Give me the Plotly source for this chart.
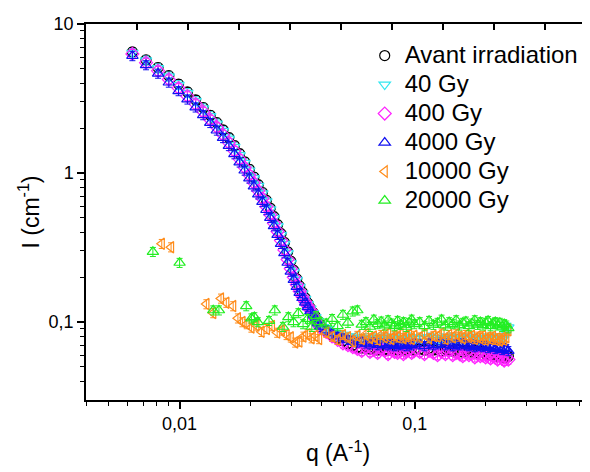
import math
import plotly.graph_objects as go

# ---------------- data ----------------
Q_LOW = [0.0063, 0.0072, 0.0081, 0.0090, 0.0099, 0.0108, 0.0117, 0.0126, 0.0135, 0.0144,
         0.0153, 0.0162, 0.0171, 0.0180, 0.0189, 0.0198, 0.0207, 0.0216, 0.0225, 0.0234,
         0.0243, 0.0252, 0.0261, 0.0270, 0.0279, 0.0288, 0.0297, 0.0306, 0.0315, 0.0324,
         0.0333, 0.0342, 0.0351, 0.0360, 0.0369, 0.0378, 0.0387, 0.0396]
Q_FLAT = [0.0420, 0.0445, 0.0470, 0.0495, 0.0520, 0.0545, 0.0570, 0.0595, 0.0620, 0.0645,
          0.0670, 0.0695, 0.0720, 0.0745, 0.0770, 0.0795, 0.0820, 0.0845, 0.0870, 0.0895,
          0.0920, 0.0945, 0.0970, 0.0995,
          0.105, 0.110, 0.115, 0.120, 0.125, 0.130, 0.135, 0.140, 0.145, 0.150,
          0.155, 0.160, 0.165, 0.170, 0.175, 0.180, 0.185, 0.190, 0.195, 0.200,
          0.205, 0.210, 0.215, 0.220, 0.225, 0.230, 0.235, 0.240, 0.245, 0.250]
Q_10000_LOW = [0.0084, 0.0092, 0.0130, 0.0139, 0.0150, 0.0158, 0.0169, 0.0177, 0.0185, 0.0193,
               0.0202, 0.0212, 0.0223, 0.0235, 0.0247, 0.0260, 0.0272, 0.0285, 0.0297, 0.0310,
               0.0323, 0.0336, 0.0350, 0.0364, 0.0378, 0.0392]
Q_20000_LOW = [0.0077, 0.0100, 0.0139, 0.0147, 0.0192, 0.0202, 0.0208, 0.0215, 0.0240, 0.0254,
               0.0275, 0.0290, 0.0305, 0.0320, 0.0335, 0.0350, 0.0365, 0.0380, 0.0395]

I_AVANT = [6.5, 5.75, 5.1, 4.5, 3.95, 3.5, 3.1, 2.75, 2.44, 2.18, 1.95, 1.73, 1.53, 1.35, 1.19,
           1.06, 0.94, 0.835, 0.74, 0.655, 0.58, 0.51, 0.45, 0.392, 0.342, 0.296, 0.256, 0.222,
           0.195, 0.174, 0.158, 0.145, 0.134, 0.124, 0.116, 0.109, 0.102, 0.096,
           0.088, 0.082, 0.078, 0.075, 0.072, 0.070, 0.068, 0.067, 0.069, 0.066, 0.068, 0.065,
           0.067, 0.066, 0.065, 0.067, 0.066, 0.065, 0.067, 0.066, 0.065, 0.066, 0.067, 0.065,
           0.066, 0.065, 0.067, 0.065, 0.066, 0.064, 0.066, 0.065, 0.064, 0.066, 0.065, 0.063,
           0.065, 0.064, 0.063, 0.065, 0.062, 0.064, 0.063, 0.061, 0.063, 0.060, 0.062, 0.061,
           0.059, 0.061, 0.060, 0.058, 0.060, 0.059]
I_40 = [6.4, 5.7, 5.05, 4.45, 3.9, 3.45, 3.05, 2.72, 2.41, 2.15, 1.92, 1.7, 1.5, 1.32, 1.17,
        1.04, 0.925, 0.82, 0.73, 0.645, 0.57, 0.5, 0.44, 0.385, 0.335, 0.29, 0.25, 0.218,
        0.192, 0.172, 0.156, 0.143, 0.132, 0.123, 0.115, 0.108, 0.102, 0.096,
        0.090, 0.087, 0.084, 0.081, 0.080, 0.078, 0.079, 0.077, 0.078, 0.076, 0.078, 0.077,
        0.079, 0.076, 0.078, 0.077, 0.079, 0.078, 0.076, 0.078, 0.077, 0.079, 0.078, 0.077,
        0.078, 0.077, 0.079, 0.078, 0.076, 0.078, 0.077, 0.079, 0.078, 0.077, 0.079, 0.078,
        0.077, 0.078, 0.079, 0.077, 0.078, 0.076, 0.078, 0.077, 0.078, 0.079, 0.077, 0.078,
        0.076, 0.078, 0.077, 0.079, 0.085, 0.092]
I_400 = [6.3, 5.5, 4.85, 4.25, 3.72, 3.28, 2.9, 2.58, 2.28, 2.03, 1.81, 1.6, 1.41, 1.24, 1.09,
         0.97, 0.86, 0.76, 0.675, 0.595, 0.525, 0.46, 0.405, 0.352, 0.305, 0.263, 0.228, 0.2,
         0.178, 0.161, 0.148, 0.137, 0.128, 0.12, 0.112, 0.105, 0.098, 0.092,
         0.086, 0.080, 0.076, 0.072, 0.070, 0.068, 0.066, 0.064, 0.067, 0.063, 0.065, 0.062,
         0.066, 0.064, 0.061, 0.065, 0.063, 0.062, 0.064, 0.061, 0.063, 0.065, 0.062, 0.064,
         0.063, 0.061, 0.064, 0.062, 0.060, 0.063, 0.061, 0.064, 0.060, 0.062, 0.061, 0.059,
         0.062, 0.060, 0.061, 0.058, 0.061, 0.059, 0.060, 0.058, 0.060, 0.057, 0.059, 0.058,
         0.056, 0.059, 0.057, 0.055, 0.058, 0.056]
I_4000 = [6.1, 5.3, 4.65, 4.05, 3.55, 3.12, 2.76, 2.45, 2.17, 1.93, 1.72, 1.52, 1.34, 1.18, 1.04,
          0.92, 0.815, 0.72, 0.64, 0.565, 0.50, 0.44, 0.385, 0.335, 0.29, 0.25, 0.218, 0.192,
          0.172, 0.157, 0.145, 0.135, 0.126, 0.118, 0.111, 0.104, 0.098, 0.093,
          0.088, 0.084, 0.080, 0.078, 0.076, 0.075, 0.073, 0.074, 0.072, 0.071, 0.073, 0.070,
          0.072, 0.071, 0.070, 0.072, 0.069, 0.071, 0.070, 0.072, 0.069, 0.071, 0.070, 0.072,
          0.071, 0.069, 0.072, 0.070, 0.071, 0.073, 0.070, 0.072, 0.069, 0.071, 0.070, 0.072,
          0.070, 0.069, 0.071, 0.068, 0.070, 0.069, 0.068, 0.070, 0.067, 0.069, 0.068, 0.066,
          0.068, 0.067, 0.065, 0.067, 0.066, 0.064]
I_10000 = [0.335, 0.318, 0.132, 0.115, 0.144, 0.135, 0.128, 0.106, 0.100, 0.097, 0.092, 0.095,
           0.086, 0.090, 0.094, 0.085, 0.088, 0.082, 0.079, 0.073, 0.074, 0.080, 0.083, 0.078,
           0.081, 0.077,
           0.085, 0.080, 0.076, 0.082, 0.079, 0.074, 0.081, 0.077, 0.083, 0.078, 0.080, 0.076,
           0.082, 0.079, 0.084, 0.077, 0.081, 0.079, 0.083, 0.078, 0.080, 0.082, 0.077, 0.081,
           0.079, 0.083, 0.078, 0.081, 0.080, 0.084, 0.077, 0.082, 0.079, 0.083, 0.080, 0.078,
           0.082, 0.079, 0.081, 0.077, 0.080, 0.078, 0.081, 0.076, 0.079, 0.077, 0.080, 0.076,
           0.078, 0.075, 0.078, 0.076, 0.079, 0.088]
I_20000 = [0.296, 0.250, 0.120, 0.120, 0.128, 0.106, 0.108, 0.100, 0.102, 0.120, 0.093, 0.108,
           0.100, 0.115, 0.097, 0.105, 0.093, 0.110, 0.100,
           0.098, 0.105, 0.094, 0.112, 0.099, 0.118, 0.120, 0.096, 0.100, 0.093, 0.104, 0.097,
           0.101, 0.095, 0.103, 0.098, 0.094, 0.102, 0.096, 0.100, 0.093, 0.099, 0.104, 0.097,
           0.100, 0.094, 0.102, 0.096, 0.099, 0.104, 0.095, 0.100, 0.097, 0.103, 0.095, 0.099,
           0.101, 0.094, 0.098, 0.103, 0.096, 0.100, 0.095, 0.099, 0.102, 0.094, 0.098, 0.100,
           0.095, 0.099, 0.093, 0.097, 0.095, 0.091]

NAMES = ["Avant irradiation", "40 Gy", "400 Gy", "4000 Gy", "10000 Gy", "20000 Gy"]
X_TICKS = [0.01, 0.1]
X_TICKTEXT = ["0,01", "0,1"]
Y_TICKS = [0.1, 1, 10]
Y_TICKTEXT = ["0,1", "1", "10"]

Q_MAIN = Q_LOW + Q_FLAT
series = [
    (NAMES[0], Q_MAIN, I_AVANT, "circle-open", "#000000"),
    (NAMES[1], Q_MAIN, I_40, "triangle-down-open", "#33E6F0"),
    (NAMES[2], Q_MAIN, I_400, "diamond-open", "#FF22FF"),
    (NAMES[3], Q_MAIN, I_4000, "triangle-up-open", "#1010F0"),
    (NAMES[4], Q_10000_LOW + Q_FLAT, I_10000, "triangle-left-open", "#FF8C1A"),
    (NAMES[5], Q_20000_LOW + Q_FLAT, I_20000, "triangle-up-open", "#22EE22"),
]
for name, q, i, _, _ in series:
    assert len(q) == len(i), (name, len(q), len(i))

FONT = "Liberation Sans, Arial, sans-serif"

fig = go.Figure()
for name, q, i, sym, col in series:
    fig.add_trace(go.Scatter(
        x=q, y=i, mode="markers",
        name='<span style="font-size:24px">' + name + '</span>',
        marker=dict(symbol=sym, size=10, color=col, line=dict(width=1.2, color=col)),
        error_y=dict(type="percent", value=7, width=3, thickness=1, color=col),
    ))

x_minor = [0.004, 0.005, 0.006, 0.007, 0.008, 0.009,
           0.02, 0.03, 0.04, 0.05, 0.06, 0.07, 0.08, 0.09,
           0.2, 0.3, 0.4, 0.5]
y_minor = [0.04, 0.05, 0.06, 0.07, 0.08, 0.09,
           0.2, 0.3, 0.4, 0.5, 0.6, 0.7, 0.8, 0.9,
           2, 3, 4, 5, 6, 7, 8, 9]

# page body has an 8px default margin: figure is 582x464 placed at (8, 8)
fig.update_layout(
    width=582, height=464,
    margin=dict(l=78, r=0, t=16, b=72),
    paper_bgcolor="white", plot_bgcolor="white",
    font=dict(family=FONT, color="black", size=18),
    showlegend=True,
    legend=dict(x=0.553, y=0.968, xanchor="left", yanchor="top",
                bgcolor="rgba(0,0,0,0)", font=dict(size=20, family=FONT),
                itemsizing="trace"),
    xaxis=dict(
        type="log", range=[math.log10(0.004), math.log10(0.556)],
        showgrid=False, zeroline=False,
        showline=True, linecolor="black", linewidth=1.5,
        ticks="outside", ticklen=7, tickwidth=1.5, tickcolor="black",
        tickvals=X_TICKS, ticktext=X_TICKTEXT,
        tickfont=dict(size=18),
        minor=dict(tickvals=x_minor, ticks="outside", ticklen=4, tickwidth=1.2, tickcolor="black", showgrid=False),
        title=dict(text="q (A<sup>-1</sup>)", font=dict(size=23), standoff=12),
        automargin=False,
    ),
    xaxis2=dict(
        overlaying="x", side="top", range=[0, 504 / 51], showgrid=False, zeroline=False,
        showline=True, linecolor="black", linewidth=1.5,
        ticks="inside", ticklen=6, tickwidth=1.5, tickcolor="black",
        tick0=0, dtick=1, showticklabels=False, automargin=False,
    ),
    yaxis=dict(
        type="log", range=[math.log10(0.03), 1],
        showgrid=False, zeroline=False,
        showline=True, linecolor="black", linewidth=1.5,
        ticks="outside", ticklen=7, tickwidth=1.5, tickcolor="black",
        tickvals=Y_TICKS, ticktext=Y_TICKTEXT,
        tickfont=dict(size=18),
        minor=dict(tickvals=y_minor, ticks="outside", ticklen=4, tickwidth=1.2, tickcolor="black", showgrid=False),
        title=dict(text="I (cm<sup>-1</sup>)", font=dict(size=23), standoff=3),
        automargin=False,
    ),
)
fig.add_trace(go.Scatter(x=[0], y=[1], xaxis="x2", mode="markers",
                         marker=dict(opacity=0), showlegend=False, hoverinfo="skip"))

fig.write_html("out.html")
